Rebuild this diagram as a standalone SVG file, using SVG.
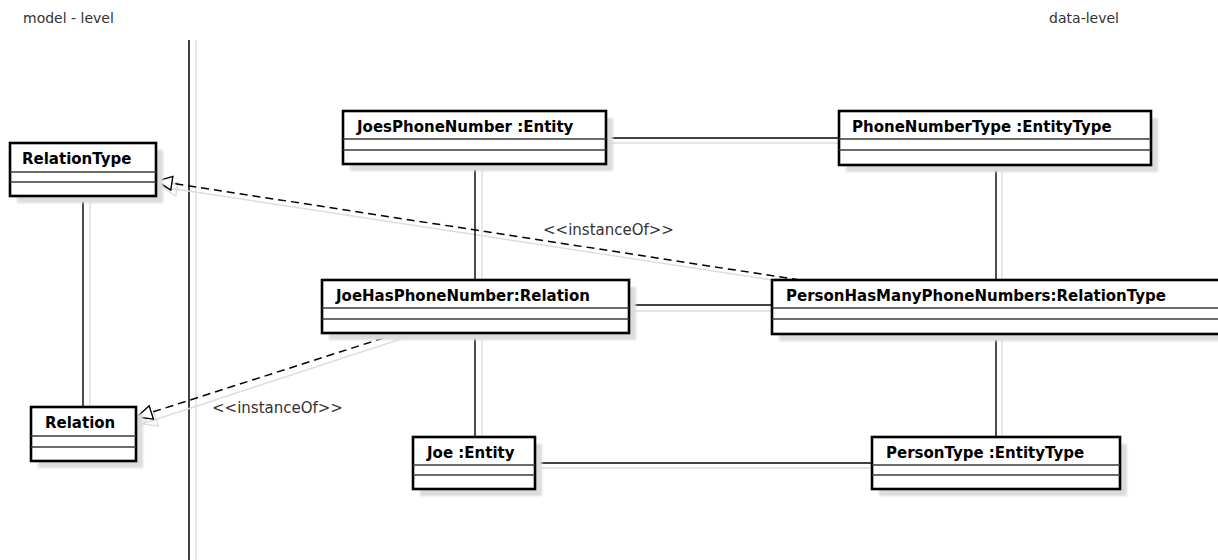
<svg xmlns="http://www.w3.org/2000/svg" width="1218" height="560" viewBox="0 0 1218 560">
  <style>
    .frame { fill: #ffffff; stroke: #000000; stroke-width: 2.6; }
    .shade { fill: #dcdcdc; filter: url(#soft); }
    .sep { stroke: #3a3a3a; stroke-width: 1.3; }
    .name { font-family: "DejaVu Sans", "Liberation Sans", sans-serif; font-size: 15px; font-weight: bold; fill: #000000; }
    .note { font-family: "DejaVu Sans", "Liberation Sans", sans-serif; font-size: 14px; fill: #333333; }
    .stereo { font-family: "DejaVu Sans", "Liberation Sans", sans-serif; font-size: 15px; fill: #333333; }
    .link { stroke: #000000; stroke-width: 1.4; fill: none; }
    .ghost { stroke: #dddddd; stroke-width: 1.4; fill: none; }
    .dep { stroke: #000000; stroke-width: 1.5; fill: none; stroke-dasharray: 8 5; }
  </style>
  <defs>
    <filter id="soft" x="-10%" y="-10%" width="120%" height="130%">
      <feGaussianBlur stdDeviation="1.2"/>
    </filter>
    <marker id="hollow" markerUnits="userSpaceOnUse" markerWidth="18" markerHeight="18" refX="16" refY="8" orient="auto">
      <path d="M1,1 L16,8 L1,15 Z" fill="#ffffff" stroke="#000000" stroke-width="1.4" stroke-dasharray="none"/>
    </marker>
    <marker id="hollowGhost" markerUnits="userSpaceOnUse" markerWidth="18" markerHeight="18" refX="16" refY="8" orient="auto">
      <path d="M1,1 L16,8 L1,15 Z" fill="none" stroke="#dddddd" stroke-width="1.4"/>
    </marker>
  </defs>

  <rect width="1218" height="560" fill="#ffffff"/>

  <!-- level captions -->
  <text class="note" x="23" y="23">model - level</text>
  <text class="note" x="1119" y="23" text-anchor="end">data-level</text>

  <!-- level separator -->
  <line class="ghost" x1="196" y1="40" x2="196" y2="560"/>
  <line x1="189" y1="40" x2="189" y2="560" stroke="#000000" stroke-width="1.5"/>

  <g id="connectors">
    <!-- soft copies of the links -->
    <line class="ghost" x1="90" y1="196" x2="90" y2="407"/>
    <line class="ghost" x1="606" y1="143" x2="839" y2="143"/>
    <line class="ghost" x1="482" y1="164" x2="482" y2="280"/>
    <line class="ghost" x1="1002" y1="165" x2="1002" y2="280"/>
    <line class="ghost" x1="629" y1="311" x2="772" y2="311"/>
    <line class="ghost" x1="482" y1="333" x2="482" y2="437"/>
    <line class="ghost" x1="1002" y1="334" x2="1002" y2="437"/>
    <line class="ghost" x1="535" y1="468" x2="872" y2="468"/>
    <line class="ghost" x1="805" y1="285" x2="162" y2="187" marker-end="url(#hollowGhost)"/>
    <line class="ghost" x1="401" y1="339" x2="142" y2="424" marker-end="url(#hollowGhost)"/>

    <!-- links -->
    <line class="link" x1="83" y1="196" x2="83" y2="407"/>
    <line class="link" x1="606" y1="138" x2="839" y2="138"/>
    <line class="link" x1="475" y1="164" x2="475" y2="280"/>
    <line class="link" x1="996" y1="165" x2="996" y2="280"/>
    <line class="link" x1="629" y1="305" x2="772" y2="305"/>
    <line class="link" x1="475" y1="333" x2="475" y2="437"/>
    <line class="link" x1="996" y1="334" x2="996" y2="437"/>
    <line class="link" x1="535" y1="463" x2="872" y2="463"/>

    <!-- instanceOf dependencies -->
    <line class="dep" x1="800" y1="280" x2="157" y2="181" marker-end="url(#hollow)"/>
    <line class="dep" x1="396" y1="334" x2="137" y2="417" marker-end="url(#hollow)"/>
    <text class="stereo" x="543" y="235">&lt;&lt;instanceOf&gt;&gt;</text>
    <text class="stereo" x="212" y="413">&lt;&lt;instanceOf&gt;&gt;</text>
  </g>

  <g id="RelationType">
    <rect class="shade" x="17" y="150" width="146" height="53"/>
    <rect class="frame" x="10" y="143" width="146" height="53"/>
    <line class="sep" x1="10" y1="172" x2="156" y2="172"/>
    <line class="sep" x1="10" y1="182" x2="156" y2="182"/>
    <text class="name" x="22" y="164">RelationType</text>
  </g>

  <g id="Relation">
    <rect class="shade" x="38" y="414" width="105" height="54"/>
    <rect class="frame" x="31" y="407" width="105" height="54"/>
    <line class="sep" x1="31" y1="436" x2="136" y2="436"/>
    <line class="sep" x1="31" y1="447" x2="136" y2="447"/>
    <text class="name" x="45" y="428">Relation</text>
  </g>

  <g id="JoesPhoneNumber">
    <rect class="shade" x="350" y="118" width="263" height="53"/>
    <rect class="frame" x="343" y="111" width="263" height="53"/>
    <line class="sep" x1="343" y1="139" x2="606" y2="139"/>
    <line class="sep" x1="343" y1="150" x2="606" y2="150"/>
    <text class="name" x="357" y="132">JoesPhoneNumber :Entity</text>
  </g>

  <g id="PhoneNumberType">
    <rect class="shade" x="846" y="118" width="312" height="54"/>
    <rect class="frame" x="839" y="111" width="312" height="54"/>
    <line class="sep" x1="839" y1="139" x2="1151" y2="139"/>
    <line class="sep" x1="839" y1="150" x2="1151" y2="150"/>
    <text class="name" x="852" y="132">PhoneNumberType :EntityType</text>
  </g>

  <g id="JoeHasPhoneNumber">
    <rect class="shade" x="329" y="287" width="307" height="53"/>
    <rect class="frame" x="322" y="280" width="307" height="53"/>
    <line class="sep" x1="322" y1="308" x2="629" y2="308"/>
    <line class="sep" x1="322" y1="319" x2="629" y2="319"/>
    <text class="name" x="336" y="301">JoeHasPhoneNumber:Relation</text>
  </g>

  <g id="PersonHasManyPhoneNumbers">
    <rect class="shade" x="779" y="287" width="460" height="54"/>
    <rect class="frame" x="772" y="280" width="460" height="54"/>
    <line class="sep" x1="772" y1="308" x2="1232" y2="308"/>
    <line class="sep" x1="772" y1="319" x2="1232" y2="319"/>
    <text class="name" x="786" y="301">PersonHasManyPhoneNumbers:RelationType</text>
  </g>

  <g id="Joe">
    <rect class="shade" x="420" y="444" width="122" height="52"/>
    <rect class="frame" x="413" y="437" width="122" height="52"/>
    <line class="sep" x1="413" y1="465" x2="535" y2="465"/>
    <line class="sep" x1="413" y1="475" x2="535" y2="475"/>
    <text class="name" x="427" y="458">Joe :Entity</text>
  </g>

  <g id="PersonType">
    <rect class="shade" x="879" y="444" width="248" height="52"/>
    <rect class="frame" x="872" y="437" width="248" height="52"/>
    <line class="sep" x1="872" y1="465" x2="1120" y2="465"/>
    <line class="sep" x1="872" y1="475" x2="1120" y2="475"/>
    <text class="name" x="886" y="458">PersonType :EntityType</text>
  </g>
</svg>
